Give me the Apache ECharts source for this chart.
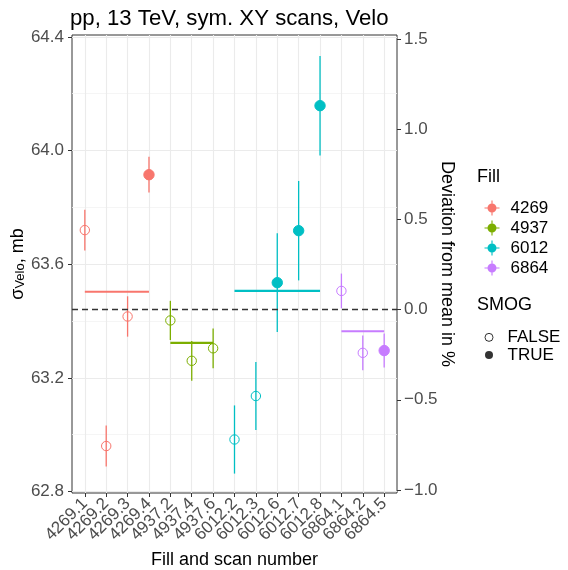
<!DOCTYPE html>
<html>
<head>
<meta charset="utf-8">
<script src="https://cdn.jsdelivr.net/npm/echarts@6/dist/echarts.min.js"></script>
<style>
  html, body { margin: 0; padding: 0; background: #fff; }
  #chart { width: 568px; height: 570px; }
</style>
</head>
<body>
<div id="chart"></div>
<script>
const categories = ['4269.1', '4269.2', '4269.3', '4269.4', '4937.2', '4937.4', '4937.6',
  '6012.2', '6012.3', '6012.6', '6012.7', '6012.8', '6864.1', '6864.2', '6864.5']
const fills = ['4269', '4937', '6012', '6864']
const fillColors = ['#F8766D', '#7CAE00', '#00BFC4', '#C77CFF']
const sigmaVelo = [63.720, 62.960, 63.416, 63.915, 63.402, 63.260, 63.304,
  62.983, 63.136, 63.535, 63.718, 64.158, 63.506, 63.288, 63.296]
const sigmaErr = [0.072, 0.072, 0.071, 0.063, 0.069, 0.070, 0.070,
  0.120, 0.120, 0.174, 0.175, 0.175, 0.061, 0.061, 0.060]
const smog = [false, false, false, true, false, false, false,
  false, false, true, true, true, false, false, true]
const fillMeans = [63.503, 63.323, 63.506, 63.364]
const overallMean = 63.44
const leftTicks = [62.8, 63.2, 63.6, 64.0, 64.4]
const leftMinorTicks = [63.0, 63.4, 63.8, 64.2]
const rightTicks = [-1.0, -0.5, 0.0, 0.5, 1.0, 1.5]
const yRange = [62.7947, 64.4067]

const catIdx = categories.map((c, i) => i)
const evenIdx = catIdx.filter(i => i % 2 === 0)
const oddIdx = catIdx.filter(i => i % 2 === 1)
const toPct = v => (v / overallMean - 1) * 100
const minus = s => s.replace('-', '\u2212')
const keyIcon = 'path://M7.4,0h1.2v16h-1.2z M0,7.4h16v1.2h-16z M3.2,8a4.8,4.8 0 1,1 9.6,0a4.8,4.8 0 1,1 -9.6,0z'

function renderPoint (color) {
  return function (params, api) {
    const x = api.value(0)
    const y = api.value(1)
    const e = api.value(2)
    const filled = api.value(3) === 1
    const c = api.coord([x, y])
    const top = api.coord([x, y + e])
    const bot = api.coord([x, y - e])
    return {
      type: 'group',
      children: [
        { type: 'line', shape: { x1: top[0], y1: top[1], x2: bot[0], y2: bot[1] },
          style: { stroke: color, lineWidth: 1.3 } },
        { type: 'circle', shape: { cx: c[0], cy: c[1], r: filled ? 5.2 : 4.7 },
          style: { fill: filled ? color : 'none', stroke: color, lineWidth: 1 } }
      ]
    }
  }
}

const series = []
fills.forEach((f, k) => {
  const idx = catIdx.filter(i => categories[i].split('.')[0] === f)
  series.push({
    name: f,
    type: 'custom',
    coordinateSystem: 'cartesian2d',
    itemStyle: { color: fillColors[k] },
    encode: { x: 0, y: 1 },
    renderItem: renderPoint(fillColors[k]),
    data: idx.map(i => [i, sigmaVelo[i], sigmaErr[i], smog[i] ? 1 : 0])
  })
  series.push({
    name: f,
    type: 'line',
    symbol: 'none',
    silent: true,
    lineStyle: { color: fillColors[k], width: 2.2 },
    itemStyle: { color: fillColors[k] },
    data: [[idx[0], fillMeans[k]], [idx[idx.length - 1], fillMeans[k]]]
  })
})
series.push({
  name: 'FALSE', type: 'scatter', data: [],
  itemStyle: { color: '#fff', borderColor: '#000', borderWidth: 1 }
})
series.push({
  name: 'TRUE', type: 'scatter', data: [],
  itemStyle: { color: '#000' }
})
series[0].markLine = {
  silent: true,
  symbol: 'none',
  label: { show: false },
  lineStyle: { color: '#333', type: [6, 4], width: 1.3 },
  data: [{ yAxis: overallMean }]
}

// labels are split over two axes so ECharts does not drop overlapping rotated ones
function labelAxis (values, main) {
  return {
    type: 'value',
    position: 'bottom',
    offset: 0,
    min: -0.6,
    max: categories.length - 0.4,
    name: main ? 'Fill and scan number' : '',
    nameLocation: 'middle',
    nameGap: 58,
    nameMoveOverlap: false,
    nameTextStyle: { fontSize: 18, color: '#000' },
    axisLine: { show: false, onZero: false },
    axisTick: { show: true, length: 4, customValues: values, lineStyle: { color: '#333' } },
    axisLabel: {
      customValues: values, interval: 0, rotate: 45, margin: 8, fontSize: 17,
      color: '#4D4D4D', hideOverlap: false, showMinLabel: true, showMaxLabel: true,
      formatter: v => categories[Math.round(v)]
    },
    splitLine: { show: true, lineStyle: { color: '#EBEBEB', width: 1.1 } }
  }
}

const option = {
  animation: false,
  textStyle: { fontFamily: 'Liberation Sans, Arial, sans-serif' },
  title: [
    { text: 'pp, 13 TeV, sym. XY scans, Velo', left: 70, top: 8, padding: 0,
      textStyle: { fontSize: 22.2, fontWeight: 'normal', color: '#000' } },
    { text: 'Fill', left: 477, top: 168, padding: 0,
      textStyle: { fontSize: 18, fontWeight: 'normal', color: '#000' } },
    { text: 'SMOG', left: 477, top: 296, padding: 0,
      textStyle: { fontSize: 18, fontWeight: 'normal', color: '#000' } }
  ],
  legend: [
    {
      orient: 'vertical', left: 479.5, top: 193, itemGap: 0,
      itemWidth: 15, itemHeight: 15, selectedMode: false,
      textStyle: { fontSize: 17, color: '#000', lineHeight: 20, padding: [0, 0, 0, 6] },
      data: fills.map((f, k) => ({ name: f, icon: keyIcon, itemStyle: { color: fillColors[k] } }))
    },
    {
      orient: 'vertical', left: 479.5, top: 323.5, itemGap: 0,
      itemWidth: 15, itemHeight: 8, selectedMode: false,
      textStyle: { fontSize: 17, color: '#000', lineHeight: 17.7, padding: [0, 0, 0, 6] },
      data: [
        { name: 'FALSE', icon: 'circle', itemStyle: { color: '#fff', borderColor: '#000', borderWidth: 1 } },
        { name: 'TRUE', icon: 'circle', itemStyle: { color: '#000' } }
      ]
    }
  ],
  grid: {
    left: 72, right: 171, top: 35, bottom: 77,
    outerBoundsMode: 'none',
    containLabel: false,
    show: true, borderColor: '#333', borderWidth: 1, backgroundColor: '#fff'
  },
  xAxis: [labelAxis(evenIdx, true), labelAxis(oddIdx, false)],
  yAxis: [
    {
      type: 'value',
      position: 'left',
      min: yRange[0],
      max: yRange[1],
      name: '{s|\u03C3}{sub|Velo}{s|, mb}',
      nameLocation: 'middle',
      nameGap: 45,
      nameMoveOverlap: false,
      nameTextStyle: {
        color: '#000',
        rich: {
          s: { fontSize: 18, lineHeight: 18, verticalAlign: 'top', color: '#000' },
          sub: { fontSize: 13, lineHeight: 13, padding: [9, 0, 0, 0], verticalAlign: 'bottom', color: '#000' }
        }
      },
      axisLine: { show: false, onZero: false },
      axisTick: { show: true, length: 4, customValues: leftTicks, lineStyle: { color: '#333' } },
      axisLabel: {
        customValues: leftTicks, margin: 8, fontSize: 17, color: '#4D4D4D',
        formatter: v => v.toFixed(1)
      },
      splitLine: { show: true, lineStyle: { color: '#EBEBEB', width: 1.1 } }
    },
    {
      type: 'value',
      position: 'right',
      min: toPct(yRange[0]),
      max: toPct(yRange[1]),
      name: 'Deviation from mean in %',
      nameLocation: 'middle',
      nameRotate: -90,
      nameGap: 41,
      nameMoveOverlap: false,
      nameTextStyle: { fontSize: 18, color: '#000' },
      axisLine: { show: false, onZero: false },
      axisTick: { show: true, length: 4, customValues: rightTicks, lineStyle: { color: '#333' } },
      axisLabel: {
        customValues: rightTicks, margin: 7, fontSize: 17, color: '#4D4D4D',
        formatter: v => minus(v.toFixed(1))
      },
      splitLine: { show: false }
    },
    {
      type: 'value',
      position: 'left',
      min: yRange[0],
      max: yRange[1],
      axisLine: { show: false, onZero: false },
      axisTick: { show: false, customValues: leftMinorTicks },
      axisLabel: { show: false, customValues: leftMinorTicks },
      splitLine: { show: true, lineStyle: { color: '#F3F3F3', width: 0.8 } }
    }
  ],
  series: series
}

const myChart = echarts.init(document.getElementById('chart'))
myChart.setOption(option)
</script>
</body>
</html>
